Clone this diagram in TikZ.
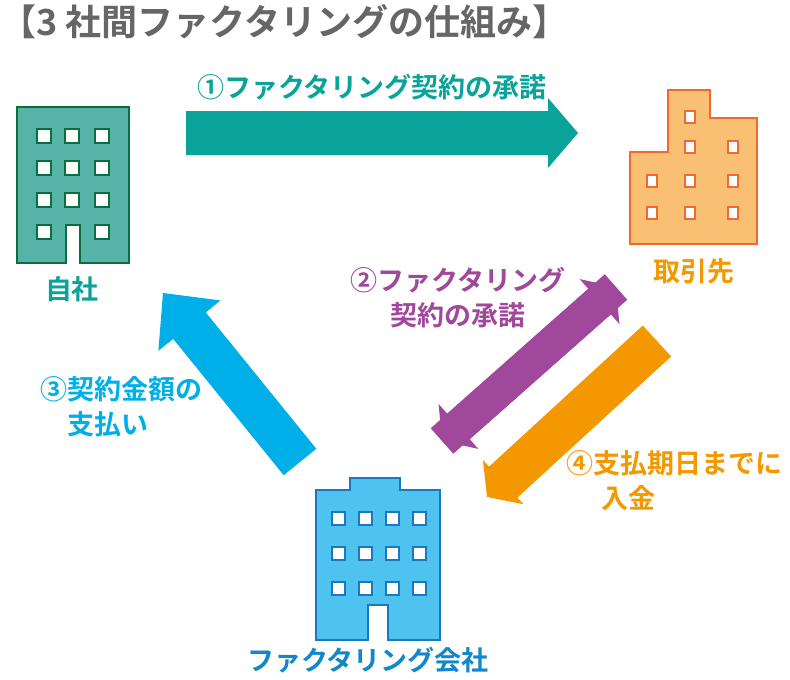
\documentclass[tikz,border=0pt]{standalone}
\usepackage{fontspec}
\setmainfont{Noto Sans CJK JP Bold}
\usetikzlibrary{calc}
\definecolor{teal1}{HTML}{0AA39A}
\definecolor{tealb}{HTML}{55B3A8}
\definecolor{teald}{HTML}{0A6E3A}
\definecolor{orgf}{HTML}{F9BF72}
\definecolor{orgd}{HTML}{F06A2E}
\definecolor{orgt}{HTML}{F39800}
\definecolor{purp}{HTML}{A0489B}
\definecolor{bluet}{HTML}{00AEE8}
\definecolor{bluef}{HTML}{4FC3F0}
\definecolor{blued}{HTML}{1A77C0}
\tikzset{
  label/.style={font=\fontsize{27}{35}\selectfont, align=center, inner sep=0pt},
  win/.style={fill=white, draw=#1, line width=1.2pt},
}
% arrow from #2 to #3, colour #1, shaft half #4, head half #5, head length #6
\newcommand\fatarrow[6]{%
  \coordinate (hc) at ($(#3)!#6!(#2)$);
  \fill[#1] ($(#2)!#4!90:(#3)$) -- ($(hc)!#4!-90:(#2)$) -- ($(hc)!#5!-90:(#2)$) -- (#3)
    -- ($(hc)!#5!90:(#2)$) -- ($(hc)!#4!90:(#2)$) -- ($(#2)!#4!-90:(#3)$) -- cycle;}
\begin{document}
\begin{tikzpicture}[x=1pt,y=-1pt]
  \useasboundingbox (0,0) rectangle (790,680);
  \node[anchor=west, inner sep=0pt, text=black!60, font=\fontsize{36}{40}\selectfont] (title) at (0,22) {【3 社間ファクタリングの仕組み】};

  % own company
  \draw[fill=tealb, draw=teald, line width=1.5pt] (17,107) -- (129,107) -- (129,263) -- (80,263) -- (80,225) -- (66,225) -- (66,263) -- (17,263) -- cycle;
  \foreach \x/\y in {37/129, 65/129, 95/129, 37/161, 65/161, 95/161, 37/193, 65/193, 95/193, 37/225, 95/225}
    \draw[win=teald] (\x,\y) rectangle ++(14,14);
  \node[label, text=teal1] (jisha) at (72,289) {自社};

  % partner
  \draw[fill=orgf, draw=orgd, line width=1.5pt] (630,152) -- (668,152) -- (668,90) -- (710,90) -- (710,118) -- (757,118) -- (757,244) -- (630,244) -- cycle;
  \foreach \x/\y in {690/117, 690/147, 733/147, 652/181, 690/181, 733/181, 652/213, 690/213, 733/213}
    \draw[win=orgd] (\x-5,\y-6) rectangle ++(10,12);
  \node[label, text=orgt] (torihiki) at (694,271) {取引先};

  % factoring company
  \draw[fill=bluef, draw=blued, line width=1.5pt] (316,490) -- (350,490) -- (350,478) -- (400,478) -- (400,490) -- (440,490) -- (440,640) -- (388,640) -- (388,605) -- (368,605) -- (368,640) -- (316,640) -- cycle;
  \foreach \c in {0,1,2,3}
    \foreach \r in {0,1,2}
      \draw[win=blued] (332+\c*27,512+\r*35) rectangle ++(13,13);
  \node[label, text=blued!70!bluet] (fcomp) at (368,660) {ファクタリング会社};

  % arrows
  \coordinate (a1s) at (186,133);
  \coordinate (a1e) at (578,133);
  \fatarrow{teal1}{a1s}{a1e}{22pt}{35pt}{30pt}
  \coordinate (a2s) at (616,287);
  \coordinate (a2e) at (442,441);
  \fatarrow{purp}{a2s}{a2e}{17pt}{30pt}{22pt}
  \fatarrow{purp}{a2e}{a2s}{17pt}{30pt}{22pt}
  \coordinate (a4s) at (657,341);
  \coordinate (a4e) at (487,497);
  \fatarrow{orgt}{a4s}{a4e}{21pt}{30pt}{22pt}
  \coordinate (a3s) at (300,462);
  \coordinate (a3e) at (163,293);
  \fatarrow{bluet}{a3s}{a3e}{21pt}{40pt}{42pt}

  \node[label, text=teal1] (l1) at (372,87) {①ファクタリング契約の承諾};
  \node[label, text=purp] (l2) at (458,298) {②ファクタリング\\契約の承諾};
  \node[label, text=bluet, align=left, anchor=west] (l3) at (40,407) {③契約金額の\\\hspace{1em}支払い};
  \node[label, text=orgt, align=left, anchor=west] (l4) at (566,481) {④支払期日までに\\\hspace{1.3em}入金};
\end{tikzpicture}
\end{document}
